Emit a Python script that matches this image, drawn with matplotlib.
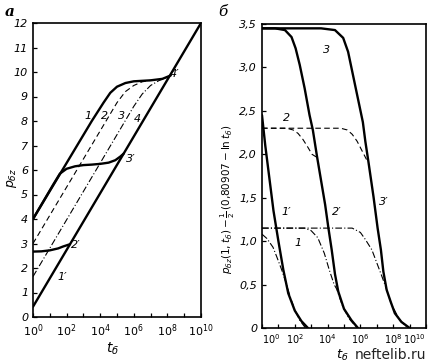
import numpy as np
import matplotlib.pyplot as plt
from matplotlib.ticker import NullFormatter, FixedLocator

plt.rcParams['font.family'] = 'DejaVu Sans'
plt.rcParams['mathtext.default'] = 'it'

# ---- panel a: p_bz vs log10(t_b) ----
a_line_1p_L = [0.0, 10.0]
a_line_1p_p = [0.42, 12.0]

a_curve_1_L = [0.0, 3.5, 4.2, 4.6, 5.0, 5.5, 6.0, 7.0, 7.7, 8.2]
a_curve_1_p = [4.0, 8.0, 8.75, 9.15, 9.4, 9.55, 9.62, 9.66, 9.72, 9.86]

a_curve_3p_L = [0.0, 1.2, 1.6, 2.0, 2.5, 3.0, 3.5, 4.0, 4.5, 4.9, 5.2, 5.4]
a_curve_3p_p = [4.0, 5.4, 5.85, 6.05, 6.15, 6.2, 6.22, 6.25, 6.3, 6.4, 6.55, 6.67]

a_curve_2p_L = [0.0, 0.5, 1.0, 1.5, 1.8, 2.2]
a_curve_2p_p = [2.67, 2.68, 2.72, 2.8, 2.88, 2.97]

a_curve_2_L = [0.0, 5.0, 5.5, 6.0, 6.5, 7.0]
a_curve_2_p = [3.0, 8.75, 9.2, 9.45, 9.6, 9.66]

a_curve_3_L = [0.0, 6.0, 6.5, 7.0, 7.5, 8.0]
a_curve_3_p = [1.65, 8.6, 9.1, 9.45, 9.65, 9.78]

a_labels = [("1", 3.3, 8.2), ("2", 4.25, 8.2), ("3", 5.3, 8.2), ("4", 6.2, 8.1),
            ("1′", 1.75, 1.65), ("2′", 2.55, 2.95), ("3′", 5.8, 6.45), ("4′", 8.45, 9.9)]

# ---- panel b: difference vs log10(t_b) ----
b_thick_1p_L = [0.0, 0.2, 0.4, 0.7, 1.0, 1.3, 1.6, 2.0, 2.4, 2.8]
b_thick_1p_p = [2.45, 2.1, 1.8, 1.35, 1.0, 0.67, 0.4, 0.2, 0.08, 0.0]

b_thick_2p_L = [0.0, 0.8, 1.4, 1.8, 2.05, 2.3, 2.6, 2.9, 3.1, 3.35, 3.6, 3.85,
                4.05, 4.25, 4.45, 4.65, 5.0, 5.45, 5.85]
b_thick_2p_p = [3.45, 3.45, 3.43, 3.35, 3.22, 3.03, 2.76, 2.45, 2.28, 1.98, 1.7, 1.42,
                1.15, 0.9, 0.62, 0.42, 0.22, 0.09, 0.0]

b_thick_3p_L = [0.0, 3.6, 4.45, 4.95, 5.25, 5.55, 5.85, 6.15, 6.3, 6.5, 6.8, 7.05,
                7.25, 7.4, 7.6, 7.85, 8.1, 8.5, 9.0]
b_thick_3p_p = [3.45, 3.45, 3.43, 3.34, 3.18, 2.91, 2.64, 2.37, 2.15, 1.9, 1.51, 1.15,
                0.9, 0.65, 0.44, 0.3, 0.17, 0.07, 0.0]

b_dash_a_L = [0.0, 1.5, 1.9, 2.2, 2.5, 2.8, 3.05, 3.3]
b_dash_a_p = [2.3, 2.3, 2.28, 2.24, 2.17, 2.08, 2.0, 1.97]
b_dash_b_L = [0.0, 4.8, 5.2, 5.5, 5.8, 6.1, 6.4]
b_dash_b_p = [2.3, 2.3, 2.28, 2.23, 2.15, 2.04, 1.93]

b_dd_a_L = [0.0, 0.3, 0.67, 0.9, 1.2, 1.5, 1.75, 2.0, 2.3, 2.65]
b_dd_a_p = [1.08, 1.03, 0.93, 0.82, 0.67, 0.5, 0.34, 0.21, 0.09, 0.0]
b_dd_b_L = [0.0, 2.6, 3.0, 3.4, 3.8, 4.1, 4.4, 4.55, 4.9, 5.3, 5.8]
b_dd_b_p = [1.15, 1.15, 1.12, 1.04, 0.86, 0.67, 0.5, 0.45, 0.26, 0.11, 0.0]
b_dd_c_L = [0.0, 5.5, 6.0, 6.3, 6.7, 7.0, 7.3, 7.55, 7.9, 8.4, 8.9]
b_dd_c_p = [1.15, 1.15, 1.1, 1.02, 0.9, 0.75, 0.6, 0.47, 0.27, 0.09, 0.0]

b_labels = [("3", 3.95, 3.2), ("2", 1.5, 2.42), ("1′", 1.5, 1.33), ("2′", 4.55, 1.33),
            ("3′", 7.45, 1.45), ("1", 2.2, 0.98)]

xmaj = [1e0, 1e2, 1e4, 1e6, 1e8, 1e10]
xmin = [1e1, 1e3, 1e5, 1e7, 1e9]
xlab = [r'$10^{0}$', r'$10^{2}$', r'$10^{4}$', r'$10^{6}$', r'$10^{8}$', r'$10^{10}$']
a_yticks = list(range(0, 13))
b_yticks = [0, 0.5, 1.0, 1.5, 2.0, 2.5, 3.0, 3.5]
b_ylab = ['0', '0,5', '1,0', '1,5', '2,0', '2,5', '3,0', '3,5']

W, H = 433, 364
fig = plt.figure(figsize=(W / 100, H / 100), dpi=100)
ax1 = fig.add_axes([33 / W, 1 - 317 / H, 168 / W, 294 / H])
ax2 = fig.add_axes([262 / W, 1 - 328 / H, 164 / W, 304 / H])

thick = dict(color='black', lw=1.7, solid_capstyle='round')
dash = dict(color='black', lw=0.8, dashes=(5, 3))
dashdot = dict(color='black', lw=0.8, dashes=(6, 2, 1, 2))


def t(L):
    return 10.0 ** np.asarray(L)


ax1.plot(t(a_line_1p_L), a_line_1p_p, **thick)
ax1.plot(t(a_curve_1_L), a_curve_1_p, **thick)
ax1.plot(t(a_curve_3p_L), a_curve_3p_p, **thick)
ax1.plot(t(a_curve_2p_L), a_curve_2p_p, **thick)
ax1.plot(t(a_curve_2_L), a_curve_2_p, **dash)
ax1.plot(t(a_curve_3_L), a_curve_3_p, **dashdot)
for s, L, p in a_labels:
    ax1.text(10 ** L, p, s, fontsize=8, fontstyle='italic', ha='center', va='center')

ax2.plot(t(b_thick_1p_L), b_thick_1p_p, **thick)
ax2.plot(t(b_thick_2p_L), b_thick_2p_p, **thick)
ax2.plot(t(b_thick_3p_L), b_thick_3p_p, **thick)
ax2.plot(t(b_dash_a_L), b_dash_a_p, **dash)
ax2.plot(t(b_dash_b_L), b_dash_b_p, **dash)
ax2.plot(t(b_dd_a_L), b_dd_a_p, **dashdot)
ax2.plot(t(b_dd_b_L), b_dd_b_p, **dashdot)
ax2.plot(t(b_dd_c_L), b_dd_c_p, **dashdot)
for s, L, p in b_labels:
    ax2.text(10 ** L, p, s, fontsize=8, fontstyle='italic', ha='center', va='center')

for ax in (ax1, ax2):
    ax.set_xscale('log')
    ax.set_xlim(1, 1e10)
    ax.xaxis.set_major_locator(FixedLocator(xmaj))
    ax.xaxis.set_minor_locator(FixedLocator(xmin))
    ax.xaxis.set_minor_formatter(NullFormatter())
    ax.set_xticklabels(xlab)
    ax.tick_params(which='both', direction='in', length=3, width=0.9, labelsize=8)
    ax.tick_params(axis='x', pad=4)
    for sp in ax.spines.values():
        sp.set_linewidth(1.2)

ax2.tick_params(axis='x', labelsize=7, pad=3)
ax2.get_xticklabels()[-1].set_horizontalalignment('right')
ax2.get_xticklabels()[0].set_horizontalalignment('left')

ax1.set_ylim(0, 12)
ax1.set_yticks(a_yticks)
ax1.set_yticklabels([str(v) for v in a_yticks], fontstyle='italic')

ax2.set_ylim(0, 3.5)
ax2.set_yticks(b_yticks)
ax2.set_yticklabels(b_ylab, fontstyle='italic')

fig.text(10 / W, 1 - 12 / H, 'а', fontsize=11, fontweight='bold', fontstyle='italic',
         family='DejaVu Serif', ha='center', va='center')
fig.text(223 / W, 1 - 12 / H, 'б', fontsize=11, fontstyle='italic',
         family='DejaVu Serif', ha='center', va='center')

fig.text(12 / W, 1 - 178 / H, r'$p_{бz}$', fontsize=9, rotation=90, ha='center', va='center')
fig.text(113 / W, 1 - 349 / H, r'$t_б$', fontsize=10, ha='center', va='center')
fig.text(228 / W, 1 - 199 / H, r'$p_{бz}(1,t_б)-\frac{1}{2}\,(0{,}80907-\mathrm{ln}\,t_б)$',
         fontsize=7.5, rotation=90, ha='center', va='center')
fig.text(342 / W, 1 - 355 / H, r'$t_б$', fontsize=9.5, ha='center', va='center')
fig.text(390 / W, 1 - 355 / H, 'neftelib.ru', fontsize=10, color='#222222',
         ha='center', va='center')

fig.savefig('out.png', dpi=100)
